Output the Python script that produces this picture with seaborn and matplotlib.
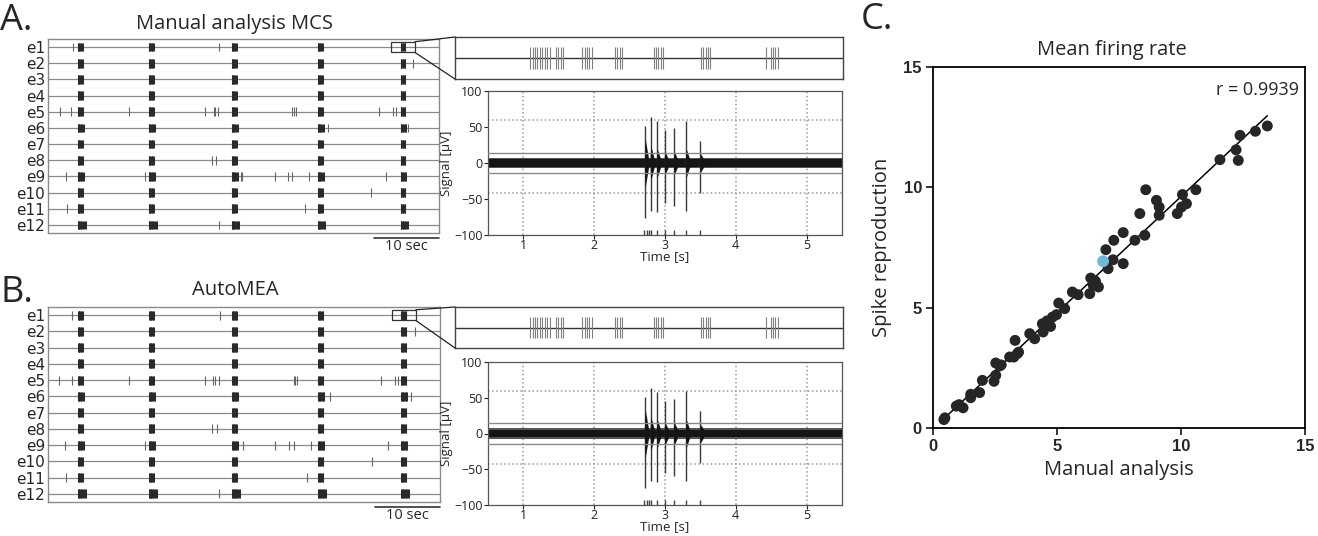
import numpy as np
import pandas as pd
import matplotlib
matplotlib.use("Agg")
import matplotlib.pyplot as plt
from matplotlib.patches import ConnectionPatch, Rectangle
from matplotlib.font_manager import FontProperties
import seaborn as sns

sns.set_theme(style="ticks")
plt.rcParams['font.family'] = ['Open Sans', 'DejaVu Sans']

W, H = 1318, 536

# ---- raster data (seconds) ----
electrodes = ["e1", "e2", "e3", "e4", "e5", "e6", "e7", "e8", "e9", "e10", "e11", "e12"]
burst_onsets = [4.6, 15.5, 28.2, 41.4, 54.1]
burst_offsets = [0.0, 0.07, 0.14, 0.21, 0.3, 0.4, 0.5, 0.62, 0.74, 0.88, 1.02, 1.16]
burst_len = [0.8, 0.75, 0.8, 0.75, 0.85, 0.95, 0.8, 0.8, 0.9, 0.8, 0.8, 1.2]

mcs_isolated = [
    [3.9, 26.3],
    [56.0],
    [],
    [],
    [1.8, 3.6, 12.4, 24.1, 25.4, 25.7, 26.1, 37.5, 37.7, 38.0, 50.8, 52.9, 53.4],
    [43.0, 55.2],
    [],
    [25.1, 25.8],
    [2.7, 14.9, 29.6, 29.8, 34.8, 36.9, 37.5, 40.1, 51.9],
    [49.5],
    [2.9, 39.5],
    [26.2],
]
automea_isolated = [
    [3.7, 26.3],
    [56.1],
    [],
    [],
    [1.7, 3.6, 12.4, 24.0, 25.3, 25.6, 26.1, 37.6, 37.8, 38.1, 51.0, 53.1, 53.5],
    [43.1, 55.5],
    [],
    [25.1, 25.8],
    [2.6, 14.9, 29.8, 34.8, 36.9, 37.6, 40.2, 52.1],
    [49.6],
    [2.7, 39.6],
    [26.2],
]
zoom_window = (52.6, 56.3)

# ---- zoomed strip spike times (s, within the zoom window) ----
strip_spikes = [0.97, 1.0, 1.03, 1.06, 1.09, 1.12, 1.16, 1.19, 1.22,
                1.30, 1.33, 1.36, 1.39,
                1.64, 1.67, 1.70, 1.73, 1.77,
                2.06, 2.09, 2.12, 2.15,
                2.56, 2.59, 2.62, 2.65, 2.68,
                3.17, 3.20, 3.23, 3.26, 3.29,
                4.01, 4.07, 4.10, 4.13, 4.16]

# ---- signal trace (uV) ----
spike_times = [2.72, 2.80, 2.89, 3.00, 3.13, 3.30, 3.50]
spike_peaks = [51, 64, 58, 46, 48, 59, 31]
spike_troughs = [-76, -67, -68, -55, -60, -67, -41]
spike_env = [34, 24, 20, 16, 16, 20, 13]
detected_times = [2.70, 2.74, 2.77, 2.80, 2.89, 3.00, 3.13, 3.30, 3.50]
noise_level = 5
threshold = 14

# ---- mean firing rate scatter ----
manual_rate = [0.44, 0.48, 0.94, 1.05, 1.21, 1.52, 1.52, 1.88, 1.99, 2.46, 2.53, 2.53,
               2.69, 2.75, 3.09, 3.26, 3.31, 3.40, 3.45, 3.90, 4.10, 4.41, 4.44, 4.60,
               4.74, 4.82, 4.98, 5.07, 5.31, 5.62, 5.85, 6.32, 6.36, 6.46, 6.67, 6.55,
               6.86, 6.97, 7.06, 7.26, 7.29, 7.67, 7.67, 8.14, 8.34, 8.54, 8.58, 9.01,
               9.12, 9.12, 9.85, 10.02, 10.06, 10.22, 10.60, 11.57, 12.22, 12.31, 12.38,
               13.0, 13.48]
spike_rate = [0.35, 0.42, 0.91, 0.97, 0.84, 1.26, 1.40, 1.47, 1.98, 1.94, 2.19, 2.70,
              2.58, 2.62, 2.95, 2.95, 3.64, 3.09, 3.15, 3.92, 3.71, 4.33, 3.99, 4.45,
              4.22, 4.61, 4.71, 5.19, 4.96, 5.65, 5.54, 5.58, 6.23, 5.93, 5.86, 6.10,
              6.93, 7.41, 6.62, 6.99, 7.80, 8.12, 6.83, 7.80, 8.91, 8.01, 9.90, 9.46,
              9.18, 8.84, 8.91, 9.18, 9.70, 9.32, 9.90, 11.15, 11.56, 11.12, 12.16,
              12.33, 12.55]
highlight = 36

fig = plt.figure(figsize=(W / 100, H / 100), dpi=100)


def px_axes(x0, y0, x1, y1):
    return fig.add_axes([x0 / W, 1 - y1 / H, (x1 - x0) / W, (y1 - y0) / H])


def draw_raster(ax, isolated):
    for i, name in enumerate(electrodes):
        row = i + 1
        ax.axhline(row, color='#8a8a8a', lw=0.9, zorder=1)
        ticks = [b + o for b in burst_onsets for o in burst_offsets if o <= burst_len[i]]
        ax.vlines(ticks, row - 0.27, row + 0.27, color='#2a2a2a', lw=0.75, zorder=2)
        ax.vlines(isolated[i], row - 0.27, row + 0.27, color='#666666', lw=0.8, zorder=2)
    ax.set_xlim(0, 60)
    ax.set_ylim(12.5, 0.5)
    ax.set_yticks(range(1, 13))
    ax.set_yticklabels(electrodes, family='DejaVu Sans', fontsize=11)
    ax.set_xticks([])
    ax.tick_params(axis='y', length=0, pad=2)
    for s in ax.spines.values():
        s.set_color('#8a8a8a')
        s.set_linewidth(1.0)
    # zoom box on e1
    ax.add_patch(Rectangle((zoom_window[0], 0.67), zoom_window[1] - zoom_window[0], 0.66,
                           fill=False, ec='#333333', lw=0.9, zorder=3))
    # scale bar
    ax.plot([50, 60], [12.78, 12.78], color='#333333', lw=1.2, clip_on=False)
    ax.text(55, 13.35, "10 sec", ha='center', va='center', fontsize=10.5)


def draw_strip(ax):
    ax.axhline(0, color='#333333', lw=1.0)
    ax.vlines(strip_spikes, -0.5, 0.5, color='#808080', lw=0.8)
    ax.set_xlim(0, 5)
    ax.set_ylim(-1, 1)
    ax.set_xticks([])
    ax.set_yticks([])
    for s in ax.spines.values():
        s.set_color('#444444')
        s.set_linewidth(1.0)


def draw_signal(ax, xlabel):
    ax.set_xlim(0.5, 5.5)
    ax.set_ylim(-100, 100)
    for x in [1, 2, 3, 4, 5]:
        ax.axvline(x, color='#9a9a9a', ls=':', lw=1.1, zorder=0)
    for y in [60, -42]:
        ax.axhline(y, color='#9a9a9a', ls=':', lw=1.1, zorder=0)
    ax.fill_between([0.5, 5.5], -noise_level - 2.5, noise_level + 2.5, color='#555555', lw=0, zorder=2)
    ax.fill_between([0.5, 5.5], -noise_level, noise_level, color='#151515', lw=0, zorder=2)
    for t, p, tr, e in zip(spike_times, spike_peaks, spike_troughs, spike_env):
        ax.vlines(t, tr, p, color='#3a3a3a', lw=1.0, zorder=3)
        ax.fill_between([t - 0.012, t, t + 0.05], [-noise_level, -e, -noise_level],
                        [noise_level, e, noise_level], color='#151515', lw=0, zorder=3)
    ax.axhline(threshold, color='#8a8a8a', lw=1.0, zorder=4)
    ax.axhline(-threshold, color='#8a8a8a', lw=1.0, zorder=4)
    ax.vlines(detected_times, -100, -93, color='#444444', lw=1.0, zorder=4, clip_on=False)
    ax.set_yticks([100, 50, 0, -50, -100])
    ax.set_xticks([1, 2, 3, 4, 5])
    ax.tick_params(labelsize=9, length=3, width=0.8, pad=1, colors='#222222')
    ax.tick_params(axis='x', pad=0)
    ax.set_ylabel("Signal [µV]", fontsize=9.5, labelpad=1)
    if xlabel:
        ax.set_xlabel("Time [s]", fontsize=9.5, labelpad=-1.5)
    for s in ax.spines.values():
        s.set_color('#555555')
        s.set_linewidth(0.9)


def connect(raster, strip):
    for yA, yB in [(0.67, 1), (1.33, 0)]:
        con = ConnectionPatch(xyA=(zoom_window[1], yA), coordsA=raster.transData,
                              xyB=(0, yB), coordsB=strip.transAxes,
                              color='#222222', lw=0.9)
        fig.add_artist(con)


# panel A
rasA = px_axes(48, 39, 439, 233)
draw_raster(rasA, mcs_isolated)
stripA = px_axes(455, 37, 843, 79)
draw_strip(stripA)
sigA = px_axes(488, 91, 842, 235)
draw_signal(sigA, True)
connect(rasA, stripA)

# panel B
rasB = px_axes(48, 307, 440, 502)
draw_raster(rasB, automea_isolated)
stripB = px_axes(455, 307, 843, 348)
draw_strip(stripB)
sigB = px_axes(488, 362, 842, 505)
draw_signal(sigB, True)
connect(rasB, stripB)

# panel C
axc = px_axes(933, 67, 1305, 428)
df = pd.DataFrame({"manual": manual_rate, "spike": spike_rate})
sns.regplot(data=df, x="manual", y="spike", scatter=False, ci=None, ax=axc,
            color='black', line_kws=dict(lw=1.1))
sns.scatterplot(data=df.drop(index=highlight), x="manual", y="spike", ax=axc,
                color='#262626', s=62, edgecolor='none', zorder=3)
sns.scatterplot(data=df.iloc[[highlight]], x="manual", y="spike", ax=axc,
                color='#6cb9d8', s=72, edgecolor='none', zorder=4)
axc.set_xlim(0, 15)
axc.set_ylim(0, 15)
axc.set_xticks([0, 5, 10, 15])
axc.set_yticks([0, 5, 10, 15])
axc.tick_params(length=5, width=1.3, pad=3)
tick_font = FontProperties(family='Liberation Sans', weight='bold', size=12)
for lab in axc.get_xticklabels() + axc.get_yticklabels():
    lab.set_fontproperties(tick_font)
for s in axc.spines.values():
    s.set_linewidth(1.3)
    s.set_color('black')
axc.set_xlabel("Manual analysis", fontsize=14.5, labelpad=4)
axc.set_ylabel("Spike reproduction", fontsize=14.5, labelpad=8)
axc.text(0.985, 0.96, "r = 0.9939", transform=axc.transAxes, ha='right', va='top', fontsize=13)

# titles and panel letters
fig.text(0, 1 - 30 / H, "A.", fontsize=26, va='baseline')
fig.text(235 / W, 1 - 29 / H, "Manual analysis MCS", fontsize=14.5, ha='center', va='baseline')
fig.text(0, 1 - 302 / H, "B.", fontsize=26, va='baseline')
fig.text(235 / W, 1 - 295 / H, "AutoMEA", fontsize=14.5, ha='center', va='baseline')
fig.text(861 / W, 1 - 29 / H, "C.", fontsize=26, va='baseline')
fig.text(1112 / W, 1 - 55 / H, "Mean firing rate", fontsize=14.5, ha='center', va='baseline')

fig.savefig("out.png", dpi=100)
